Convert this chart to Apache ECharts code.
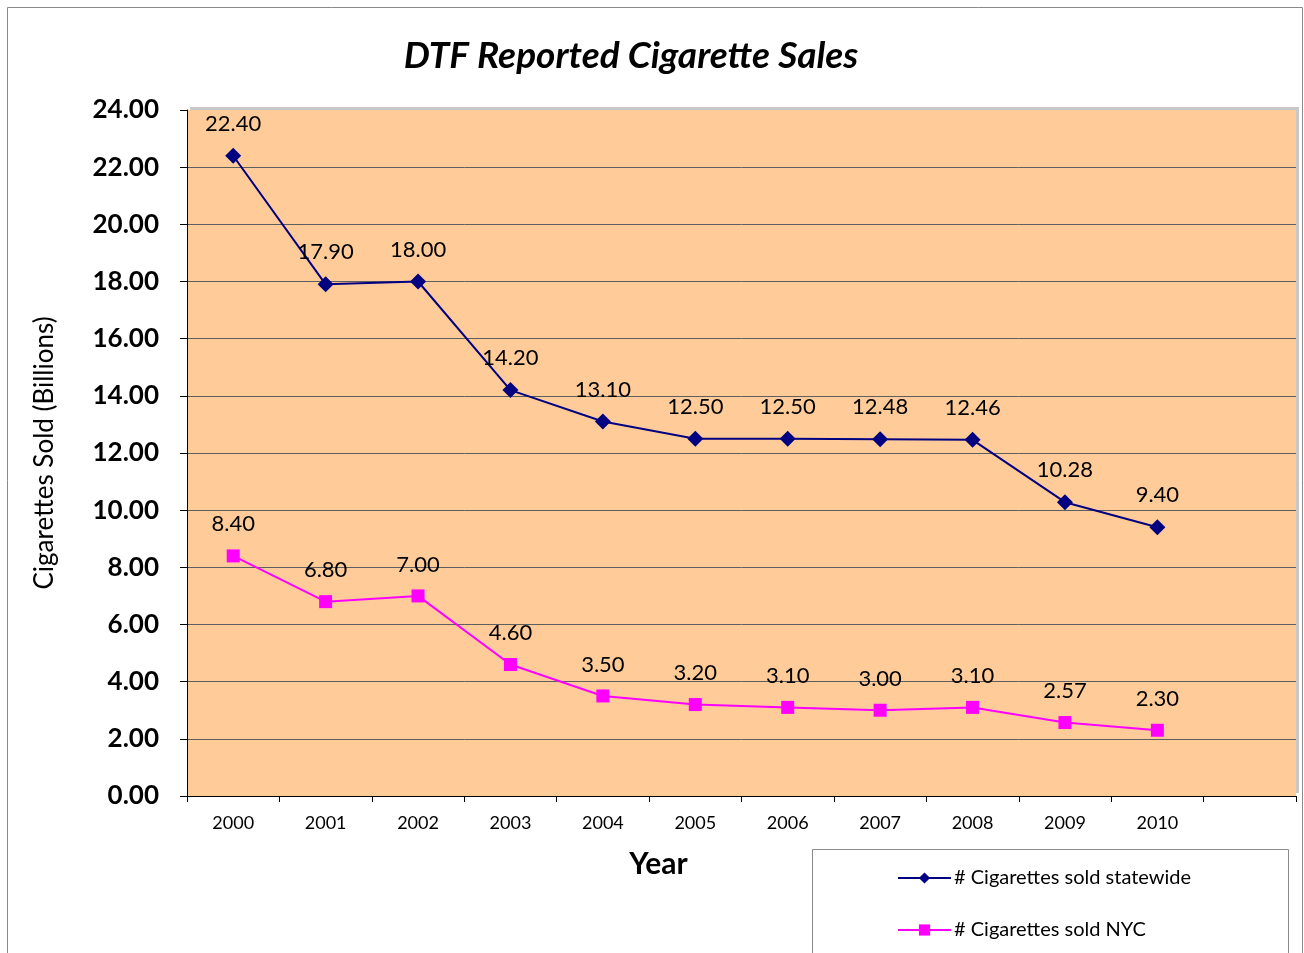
<!DOCTYPE html>
<html>
<head>
<meta charset="utf-8">
<script src="https://cdn.jsdelivr.net/npm/echarts@6/dist/echarts.min.js"></script>
<style>
html,body{margin:0;padding:0;background:#fff;}
#c{width:1304px;height:953px;}
</style>
</head>
<body>
<div id="c"></div>
<script>
const categories = ['2000','2001','2002','2003','2004','2005','2006','2007','2008','2009','2010',''];
const statewide = [22.40, 17.90, 18.00, 14.20, 13.10, 12.50, 12.50, 12.48, 12.46, 10.28, 9.40];
const nyc = [8.40, 6.80, 7.00, 4.60, 3.50, 3.20, 3.10, 3.00, 3.10, 2.57, 2.30];
const yTicks = [0, 24, 2];

const font = 'Lato, "Open Sans", sans-serif';
const gridColors = [];
for (let i = 0; i < 13; i++) gridColors.push(i === 12 ? 'transparent' : '#5e5e5e');

const chart = echarts.init(document.getElementById('c'), null, {renderer: 'canvas'});
chart.setOption({
  backgroundColor: '#ffffff',
  animation: false,
  textStyle: {fontFamily: font, color: '#000'},
  title: {
    text: 'DTF Reported Cigarette Sales',
    left: 626, top: 33, textAlign: 'center',
    textStyle: {fontFamily: font, fontSize: 37, fontWeight: 'bold', fontStyle: 'italic', color: '#000'}
  },
  graphic: [
    {type: 'rect', z: -10, shape: {x: 7.5, y: 7.5, width: 1295, height: 960},
      style: {fill: '#fff', stroke: '#8a8a8a', lineWidth: 1}},
    {type: 'rect', z: 1, shape: {x: 812.5, y: 849.5, width: 476, height: 120},
      style: {fill: '#fff', stroke: '#8a8a8a', lineWidth: 1}}
  ],
  grid: {
    left: 187, right: 8, top: 110, bottom: 157,
    show: true, backgroundColor: '#FFCC99', borderWidth: 0,
    shadowColor: '#c8c8c8', shadowOffsetX: 3, shadowOffsetY: -3, shadowBlur: 0
  },
  legend: {
    orient: 'vertical', left: 892, top: 863, z: 5,
    itemWidth: 53, itemHeight: 14, itemGap: 32,
    textStyle: {fontFamily: font, fontSize: 20, color: '#000', padding: [0, 0, 0, -2]},
    data: ['# Cigarettes sold statewide', '# Cigarettes sold NYC']
  },
  xAxis: {
    type: 'category', data: categories, boundaryGap: true,
    name: 'Year', nameLocation: 'middle', nameGap: 53,
    nameTextStyle: {fontFamily: font, fontSize: 30, fontWeight: 'bold', color: '#000', padding: [0, 166, 0, 0]},
    axisLine: {lineStyle: {color: '#000', width: 1}},
    axisTick: {show: true, alignWithLabel: false, interval: 0, length: 6, lineStyle: {color: '#000'}},
    axisLabel: {fontFamily: font, fontSize: 18, color: '#000', margin: 18, interval: 0},
    splitLine: {show: false}
  },
  yAxis: {
    type: 'value', min: yTicks[0], max: yTicks[1], interval: yTicks[2],
    name: 'Cigarettes Sold (Billions)', nameLocation: 'middle', nameGap: 129, nameRotate: 90,
    nameTextStyle: {fontFamily: font, fontSize: 26, color: '#000'},
    axisLine: {show: true, lineStyle: {color: '#000', width: 1}},
    axisTick: {show: true, length: 7, lineStyle: {color: '#000'}},
    axisLabel: {fontFamily: font, fontSize: 26, fontWeight: 'bold', color: '#000', margin: 28,
      formatter: v => v.toFixed(2)},
    splitLine: {show: true, lineStyle: {color: gridColors, width: 1}}
  },
  series: [
    {
      name: '# Cigarettes sold statewide', type: 'line', data: statewide,
      symbol: 'diamond', symbolSize: 16,
      lineStyle: {color: '#000080', width: 2},
      itemStyle: {color: '#000080'},
      label: {show: true, position: 'top', distance: 13, fontFamily: font, fontSize: 22, color: '#000',
        formatter: p => p.value.toFixed(2)},
      z: 3
    },
    {
      name: '# Cigarettes sold NYC', type: 'line', data: nyc,
      symbol: 'rect', symbolSize: 13,
      lineStyle: {color: '#FF00FF', width: 2},
      itemStyle: {color: '#FF00FF'},
      label: {show: true, position: 'top', distance: 14, fontFamily: font, fontSize: 22, color: '#000',
        formatter: p => p.value.toFixed(2)},
      z: 3
    }
  ]
});
</script>
</body>
</html>
